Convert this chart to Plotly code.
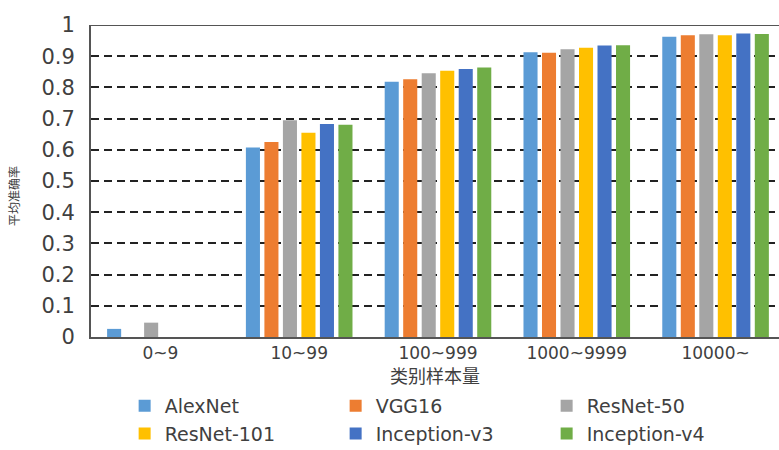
import plotly.graph_objects as go

# Sample-count buckets along the x axis
categories = ["0~9", "10~99", "100~999", "1000~9999", "10000~"]

# Mean accuracy per model and bucket
alexnet = [0.026, 0.607, 0.818, 0.913, 0.962]
vgg16 = [0.0, 0.625, 0.826, 0.911, 0.967]
resnet50 = [0.046, 0.695, 0.845, 0.922, 0.970]
resnet101 = [0.0, 0.655, 0.853, 0.927, 0.967]
inception_v3 = [0.0, 0.683, 0.859, 0.934, 0.973]
inception_v4 = [0.0, 0.680, 0.864, 0.935, 0.971]

series = [
    ("AlexNet", alexnet, "#5B9BD5"),
    ("VGG16", vgg16, "#ED7D31"),
    ("ResNet-50", resnet50, "#A5A5A5"),
    ("ResNet-101", resnet101, "#FFC000"),
    ("Inception-v3", inception_v3, "#4472C4"),
    ("Inception-v4", inception_v4, "#70AD47"),
]

y_ticks = [0, 0.1, 0.2, 0.3, 0.4, 0.5, 0.6, 0.7, 0.8, 0.9, 1]
y_ticktext = ["0", "0.1", "0.2", "0.3", "0.4", "0.5", "0.6", "0.7", "0.8", "0.9", "1"]

FONT = "DejaVu Sans, Noto Sans CJK SC"
TEXT = "#404040"

fig = go.Figure()
for name, vals, color in series:
    fig.add_trace(go.Bar(name=name, x=categories, y=vals, marker_color=color,
                         marker_line_width=0))

fig.update_layout(
    width=779, height=450,
    margin=dict(l=91, r=0, t=25, b=113),
    paper_bgcolor="white", plot_bgcolor="white",
    barmode="group", bargap=0.2, bargroupgap=0.24,
    font=dict(family=FONT, color=TEXT),
    legend=dict(
        orientation="h", xref="container", yref="container",
        x=0.16, y=0.14, xanchor="left", yanchor="top",
        font=dict(size=19, color=TEXT, family=FONT),
        entrywidth=166, entrywidthmode="pixels", itemwidth=30,
        traceorder="normal",
    ),
    showlegend=True,
)

fig.update_xaxes(
    range=[-0.5, 4.457],
    showline=True, linecolor="#555555", linewidth=2,
    showgrid=False, ticks="",
    tickfont=dict(size=17, color=TEXT, family=FONT),
    title=dict(text="类别样本量", font=dict(size=18, color=TEXT, family=FONT), standoff=10),
)

fig.update_yaxes(
    range=[0, 1], tickvals=y_ticks, ticktext=y_ticktext,
    showline=True, linecolor="#555555", linewidth=2,
    showgrid=True, gridcolor="#222222", gridwidth=1.5, griddash="8px,5px",
    zeroline=False, ticks="", ticklabelstandoff=10,
    tickfont=dict(size=21, color=TEXT, family=FONT),
)

# y-axis title, rotated, left of the tick labels
fig.add_annotation(text="平均准确率", xref="paper", yref="paper",
                   x=(14 - 91) / 688, y=(337 - 196) / 312,
                   xanchor="center", yanchor="middle", textangle=-90,
                   showarrow=False, font=dict(size=12, color=TEXT, family=FONT))

# solid top border at the 1.0 level
fig.add_shape(type="line", xref="paper", yref="y", x0=0, x1=1, y0=1, y1=1,
              line=dict(color="#555555", width=2), layer="above")

fig.write_html("out.html")
